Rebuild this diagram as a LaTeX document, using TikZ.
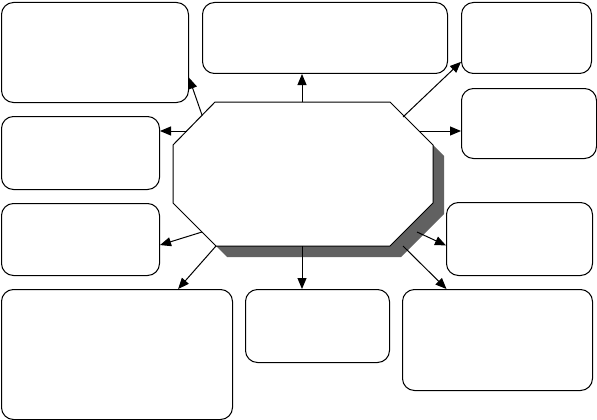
\documentclass[tikz,border=0pt]{standalone}
\usepackage{tikz}
\usetikzlibrary{arrows.meta,calc}

\newcommand{\octagonpath}{(215,102) -- (390,102) -- (433,145) -- (433,203) -- (390,246) -- (216,246) -- (173,203) -- (173,145) -- cycle}

\begin{document}
\begin{tikzpicture}[
  x=1pt, y=-1pt,
  panel/.style={rectangle, draw, line width=1pt, rounded corners=12pt, anchor=north west, inner sep=0pt},
  link/.style={-{Triangle[length=11pt,width=9pt]}, line width=1pt},
]
\useasboundingbox (0,0) rectangle (597,420);
% surrounding boxes
\node[panel, minimum width=187pt, minimum height=100pt] (lefttop) at (1,2) {};
\node[panel, minimum width=245pt, minimum height=71pt] (top) at (202,2) {};
\node[panel, minimum width=130pt, minimum height=71pt] (righttop) at (461,2) {};
\node[panel, minimum width=135pt, minimum height=70pt] (rightmid) at (461,88) {};
\node[panel, minimum width=158pt, minimum height=73pt] (leftmid) at (1,116) {};
\node[panel, minimum width=158pt, minimum height=72pt] (leftlow) at (1,203) {};
\node[panel, minimum width=146pt, minimum height=73pt] (rightlow) at (446,202) {};
\node[panel, minimum width=231pt, minimum height=130pt] (bottomleft) at (1,289) {};
\node[panel, minimum width=144pt, minimum height=73pt] (bottommid) at (245,289) {};
\node[panel, minimum width=190pt, minimum height=101pt] (bottomright) at (402,289) {};
% centre octagon with its shadow
\fill[black!62, shift={(11,11)}] \octagonpath;
\draw[line width=1pt, fill=white] \octagonpath;
\coordinate (hubA) at (202,115);
\coordinate (hubN) at (302,102);
\coordinate (hubB) at (403,117);
\coordinate (hubC) at (419,131);
\coordinate (hubD) at (187,131);
\coordinate (hubE) at (202,232);
\coordinate (hubF) at (216,246);
\coordinate (hubS) at (302,246);
\coordinate (hubG) at (417,232);
\coordinate (hubH) at (403,246);
% connectors
\draw[link] (hubA) -- (lefttop.-15.5);
\draw[link] (hubN) -- (hubN |- top.south);
\draw[link] (hubB) -- (righttop.200);
\draw[link] (hubC) -- (hubC -| rightmid.west);
\draw[link] (hubD) -- (hubD -| leftmid.east);
\draw[link] (hubE) -- (leftlow.-4);
\draw[link] (hubF) -- (bottomleft.47);
\draw[link] (hubS) -- (hubS |- bottommid.north);
\draw[link] (hubG) -- (rightlow.185);
\draw[link] (hubH) -- (bottomright.135);
\end{tikzpicture}
\end{document}
